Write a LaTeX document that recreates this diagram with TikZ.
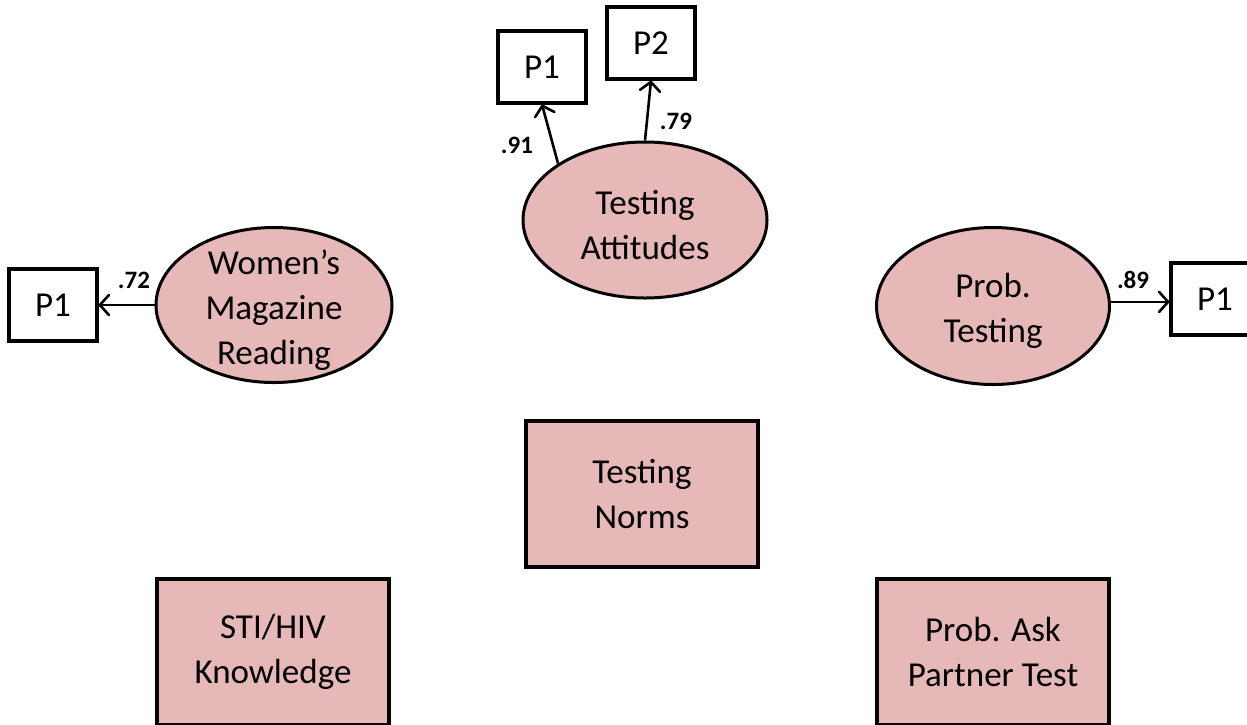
\documentclass[tikz,border=0pt]{standalone}
\usepackage{fontspec}
\setmainfont{Carlito}
\usetikzlibrary{shapes.geometric,arrows.meta}
\definecolor{rosefill}{HTML}{E6B8B7}
\begin{document}
\begin{tikzpicture}[x=1pt,y=-1pt,
  lat/.style={ellipse,draw,line width=3pt,fill=rosefill,inner sep=0pt},
  obs/.style={rectangle,draw,line width=3.2pt,fill=rosefill,minimum width=232pt,minimum height=146pt,align=center,font=\fontsize{35}{45}\selectfont},
  ind/.style={rectangle,draw,line width=3.2pt,fill=white,minimum width=88pt,minimum height=72pt,font=\fontsize{35}{45}\selectfont},
  txt/.style={align=center,font=\fontsize{35}{45}\selectfont,inner sep=0pt,yshift=-5pt},
  loading/.style={line width=2.6pt,-{Straight Barb[length=9pt,width=20pt,round]}},
  coef/.style={font=\bfseries\fontsize{25}{30}\selectfont,inner sep=0pt}]
\clip (0,0) rectangle (1247,724);
\useasboundingbox (0,0) rectangle (1247,724);

% latent constructs
\node[lat,minimum width=244pt,minimum height=156pt,label={[txt]center:Testing\\Attitudes}] (ta) at (645,220) {};
\node[lat,minimum width=236pt,minimum height=155pt,label={[txt]center:Women’s\\Magazine\\Reading}] (wm) at (274,305) {};
\node[lat,minimum width=233pt,minimum height=157pt,label={[txt]center:Prob.\\Testing}] (pt) at (993,306) {};

% indicators
\node[ind] (tap1) at (542,67) {P1};
\node[ind] (tap2) at (651,43) {P2};
\node[ind] (wmp1) at (53,305) {P1};
\node[ind] (ptp1) at (1215,299) {P1};

% observed variables
\node[obs] (tn) at (642,494) {Testing\\Norms};
\node[obs] (sk) at (273,652) {STI/HIV\\Knowledge};
\node[obs] (pa) at (993,652) {Prob. Ask\\Partner Test};

% factor loadings
\draw[loading] (ta.147) -- (tap1.south);
\draw[loading] (ta.north) -- (tap2.south);
\draw[loading] (wm.west) -- (wm.west -| wmp1.east);
\draw[loading] (pt.2) -- (pt.2 -| ptp1.west);

\node[coef] (l91) at (517,145) {.91};
\node[coef] (l79) at (676,121) {.79};
\node[coef] (l72) at (134,280) {.72};
\node[coef] (l89) at (1133,280) {.89};
\end{tikzpicture}
\end{document}
